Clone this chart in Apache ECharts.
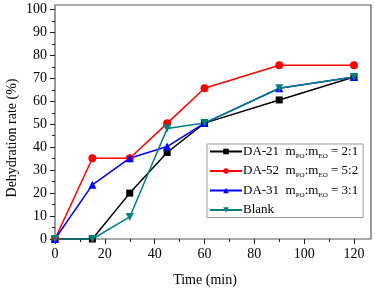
<!DOCTYPE html>
<html>
<head>
<meta charset="utf-8">
<script src="https://cdn.jsdelivr.net/npm/echarts@6/dist/echarts.min.js"></script>
<style>
  html, body { margin: 0; padding: 0; background: #fff; }
  #chart { width: 375px; height: 292px; }
</style>
</head>
<body>
<div id="chart"></div>
<script>
// time points (min)
const times = [0, 15, 30, 45, 60, 90, 120]
const da21 = [0, 0, 20, 37.7, 50.5, 60.6, 70.6]
const da52 = [0, 35.2, 35.2, 50.4, 65.7, 75.7, 75.7]
const da31 = [0, 23.6, 35.2, 40.3, 50.5, 65.7, 70.6]
const blank = [0, 0, 9.6, 48.1, 50.5, 65.7, 70.6]

const xTicks = [0, 20, 40, 60, 80, 100, 120]
const yTicks = [0, 10, 20, 30, 40, 50, 60, 70, 80, 90, 100]

const seriesNames = ['DA-21', 'DA-52', 'DA-31', 'Blank']
const ratios = { 'DA-21': '2:1', 'DA-52': '5:2', 'DA-31': '3:1' }

const font = 'Liberation Serif'

const pairs = vals => times.map((t, i) => [t, vals[i]])

const chart = echarts.init(document.getElementById('chart'))

const mkSeries = (name, vals, color, symbol, size, rotate) => ({
  name: name,
  type: 'line',
  data: pairs(vals),
  xAxisIndex: 0,
  yAxisIndex: 0,
  symbol: symbol,
  symbolSize: size,
  symbolRotate: rotate || 0,
  showAllSymbol: true,
  lineStyle: { color: color, width: 1.5 },
  itemStyle: { color: color },
  animation: false,
  z: 3
})

const titleStyle = (text) => ({
  text: text,
  fontFamily: font,
  fontSize: 14,
  fontWeight: 'normal',
  fill: '#000',
  stroke: 'transparent',
  lineWidth: 0,
  align: 'center',
  verticalAlign: 'middle'
})

const option = {
  animation: false,
  textStyle: { fontFamily: font, fontWeight: 400 },
  grid: [
    { left: 55, top: 9.5, right: 21, bottom: 53 },
    // outer frame
    { left: 55, top: 5, right: 4, bottom: 53, show: true, borderColor: '#555', borderWidth: 1.2, backgroundColor: 'transparent' }
  ],
  xAxis: [
    {
      type: 'value',
      gridIndex: 0,
      min: 0,
      max: 120,
      interval: 20,
      axisLine: { show: false },
      axisTick: { show: true, length: 5, inside: false, lineStyle: { color: '#222', width: 1 } },
      minorTick: { show: true, splitNumber: 2, length: 3, lineStyle: { color: '#222', width: 1 } },
      axisLabel: {
        fontFamily: font, fontSize: 14, color: '#000', margin: 8,
        customValues: xTicks
      },
      splitLine: { show: false }
    },
    {
      type: 'value', gridIndex: 1, min: 0, max: 1, show: false
    }
  ],
  yAxis: [
    {
      type: 'value',
      gridIndex: 0,
      min: 0,
      max: 100,
      interval: 10,
      axisLine: { show: false },
      axisTick: { show: true, length: 5, inside: false, lineStyle: { color: '#222', width: 1 } },
      minorTick: { show: true, splitNumber: 2, length: 3, lineStyle: { color: '#222', width: 1 } },
      axisLabel: {
        fontFamily: font, fontSize: 14, color: '#000', margin: 8,
        customValues: yTicks
      },
      splitLine: { show: false }
    },
    {
      type: 'value', gridIndex: 1, min: 0, max: 1, show: false
    }
  ],
  legend: {
    orient: 'vertical',
    left: 207,
    top: 144,
    width: 152,
    padding: [1, 5, 1, 2],
    itemGap: 5,
    itemWidth: 32,
    itemHeight: 7,
    borderColor: '#999',
    borderWidth: 1,
    backgroundColor: '#fff',
    data: seriesNames,
    formatter: name => {
      if (!ratios[name]) return '{n|' + name + '}'
      return '{n|' + name + '  m}{s|PO}{n|:m}{s|EO}{n| = ' + ratios[name] + '}'
    },
    textStyle: {
      fontFamily: font,
      fontSize: 13,
      color: '#000',
      padding: [0, 0, 0, -4],
      rich: {
        n: { fontFamily: font, fontSize: 13, color: '#000', height: 16 },
        s: { fontFamily: font, fontSize: 7, color: '#000', verticalAlign: 'bottom', padding: [6, 0, 0, 0] }
      }
    }
  },
  graphic: [
    {
      type: 'text',
      x: 12,
      y: 138,
      rotation: Math.PI / 2,
      style: titleStyle('Dehydration rate (%)')
    },
    {
      type: 'text',
      x: 205,
      y: 280,
      style: titleStyle('Time (min)')
    }
  ],
  series: [
    mkSeries('DA-21', da21, '#000000', 'rect', 7),
    mkSeries('DA-52', da52, '#ff0000', 'circle', 8),
    mkSeries('DA-31', da31, '#0000ff', 'triangle', 8),
    mkSeries('Blank', blank, '#008080', 'triangle', 8, 180)
  ]
}

chart.setOption(option)
</script>
</body>
</html>
